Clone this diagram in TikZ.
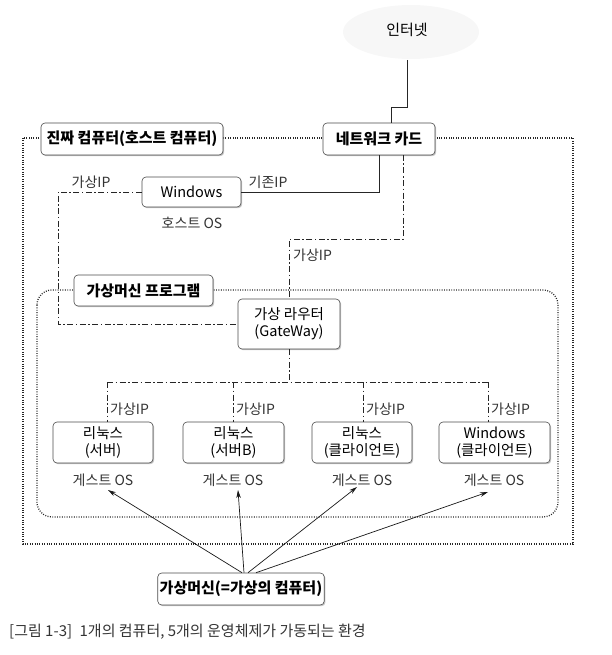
\documentclass[tikz,border=0pt]{standalone}
\usepackage{fontspec}
\setmainfont{Noto Sans CJK KR}
\usetikzlibrary{shadows,arrows.meta,calc}
\begin{document}
\begin{tikzpicture}[x=1pt,y=-1pt,
  box/.style={draw=black!70, line width=0.6pt, rounded corners=4pt, fill=white,
    drop shadow={shadow xshift=1.2pt, shadow yshift=-1.2pt, fill=black!45},
    inner sep=2pt, align=center},
  bbox/.style={box, font=\fontsize{15}{16}\selectfont\bfseries},
  rbox/.style={box, font=\fontsize{14.5}{17}\selectfont},
  lbl/.style={font=\fontsize{14}{15}\selectfont, text=black!80, inner sep=1pt},
  dd/.style={draw=black!85, line width=0.9pt, dash pattern=on 6pt off 2.5pt on 1.5pt off 2.5pt},
  solid line/.style={draw=black!85, line width=0.9pt},
  dotbox/.style={draw=black!85, line width=1.3pt, dash pattern=on 0.9pt off 1.5pt},
  arr/.style={draw=black!90, line width=0.7pt, -{Stealth[length=8pt,width=4.5pt]}}
]
\useasboundingbox (0,0) rectangle (611,655);

% internet cloud
\fill[black!3] (411,32) ellipse [x radius=68pt, y radius=27pt];
\node[font=\fontsize{15}{16}\selectfont] (inet) at (407,30) {인터넷};
\coordinate (inetb) at (407,60);

% dotted frames
\draw[dotbox] (23,138) rectangle (573,544);
\draw[dotbox, rounded corners=15pt] (37,290) rectangle (558,517);

% nodes
\node[bbox, minimum width=112pt, minimum height=32pt] (card) at (379,139) {네트워크 카드};
\node[bbox, minimum width=182pt, minimum height=32pt] (real) at (132,139) {진짜 컴퓨터(호스트 컴퓨터)};
\node[rbox, minimum width=99pt, minimum height=30pt] (win) at (191.5,192) {Windows};
\node[lbl] (hostos) at (192,223) {호스트 OS};
\node[bbox, minimum width=139pt, minimum height=31pt] (vmprog) at (143.5,290.5) {가상머신 프로그램};
\node[rbox, minimum width=102pt, minimum height=50pt] (gw) at (289,324) {가상 라우터\\(GateWay)};

\node[rbox, minimum width=100pt, minimum height=41pt] (g1) at (103,442.5) {리눅스\\(서버)};
\node[rbox, minimum width=101pt, minimum height=41pt] (g2) at (233.5,442.5) {리눅스\\(서버B)};
\node[rbox, minimum width=100pt, minimum height=41pt] (g3) at (362,442.5) {리눅스\\(클라이언트)};
\node[rbox, minimum width=111pt, minimum height=41pt] (g4) at (494.5,442.5) {Windows\\(클라이언트)};

\node[lbl] (o1) at (103,480) {게스트 OS};
\node[lbl] (o2) at (233,480) {게스트 OS};
\node[lbl] (o3) at (362,480) {게스트 OS};
\node[lbl] (o4) at (494,480) {게스트 OS};

\node[bbox, minimum width=156pt, minimum height=32pt] (vm) at (241,589) {가상머신(=가상의 컴퓨터)};

% internet to card
\coordinate (k1) at (407,107);
\coordinate (k2) at (391,107);
\draw[solid line] (inetb) -- (k1) -- (k2) -- (card.north -| k2);

% windows to card (existing IP)
\coordinate (w1) at (379,192);
\draw[solid line] (win.east) -- (w1) -- (card.south);
\node[lbl] (lexist) at (268,182) {기존IP};

% windows to gateway (virtual IP)
\coordinate (w2) at (58,192);
\coordinate (w3) at (58,324);
\draw[dd] (win.west) -- (w2) -- (w3) -- (gw.west);
\node[lbl] (lv0) at (91,182) {가상IP};

% card to gateway
\coordinate (c1) at (403,155);
\coordinate (c2) at (403,239);
\coordinate (c3) at (289,239);
\draw[dd] (c1) -- (c2) -- (c3) -- (gw.north);
\node[lbl, anchor=west] (lv1) at (292,255) {가상IP};

% gateway bus
\coordinate (b0) at (289,382);
\coordinate (t1) at (107,382);
\coordinate (t2) at (233,382);
\coordinate (t3) at (363,382);
\coordinate (t4) at (488,382);
\draw[dd] (gw.south) -- (b0);
\draw[dd] (t1) -- (t4);
\draw[dd] (t1) -- (t1 |- g1.north);
\draw[dd] (t2) -- (t2 |- g2.north);
\draw[dd] (t3) -- (t3 |- g3.north);
\draw[dd] (t4) -- (t4 |- g4.north);
\node[lbl, anchor=west] (lg1) at (109,409) {가상IP};
\node[lbl, anchor=west] (lg2) at (235,409) {가상IP};
\node[lbl, anchor=west] (lg3) at (365,409) {가상IP};
\node[lbl, anchor=west] (lg4) at (490,409) {가상IP};

% arrows
\coordinate (h1) at (108,490);
\coordinate (h2) at (238,490);
\coordinate (h3) at (357,487);
\coordinate (h4) at (488,492);
\draw[arr] ([xshift=1pt]vm.north) -- (h1);
\draw[arr] ([xshift=3pt]vm.north) -- (h2);
\draw[arr] ([xshift=7pt]vm.north) -- (h3);
\draw[arr] ([xshift=15pt]vm.north) -- (h4);

% caption
\node[anchor=west, font=\fontsize{15}{16}\selectfont, text=black!80, inner sep=0pt] (cap) at (9,632) {[그림 1-3]\enspace 1개의 컴퓨터, 5개의 운영체제가 가동되는 환경};
\end{tikzpicture}
\end{document}
